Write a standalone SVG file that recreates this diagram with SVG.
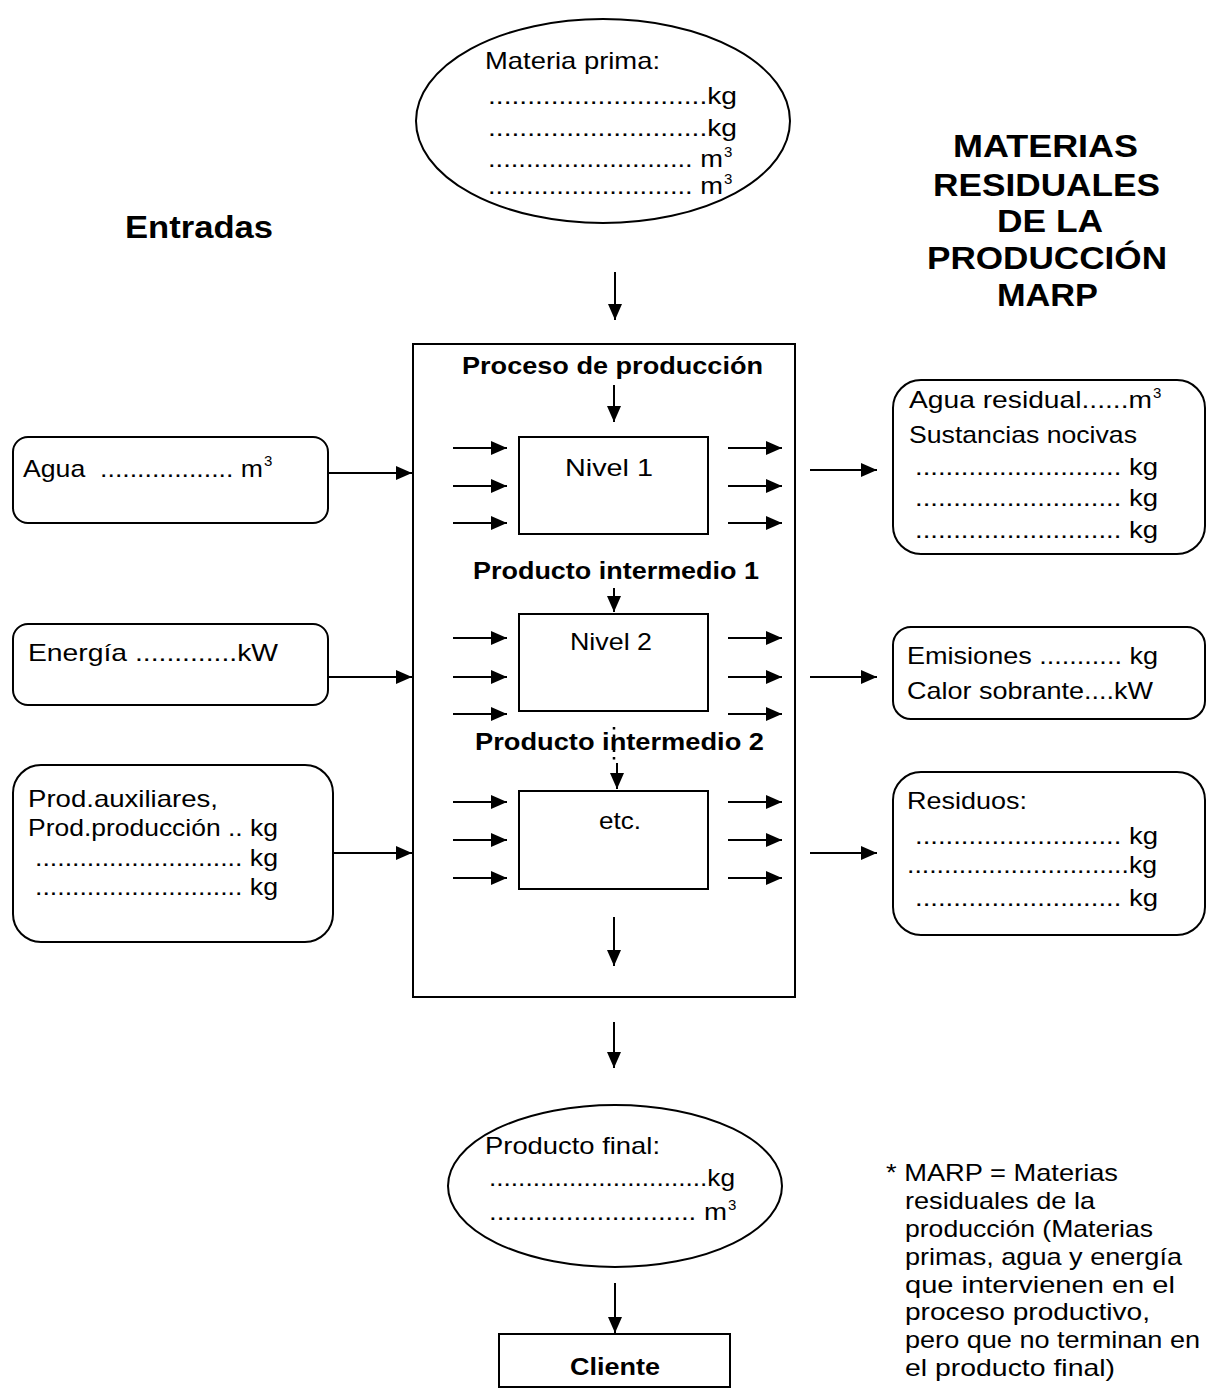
<svg xmlns="http://www.w3.org/2000/svg" width="1207" height="1394" viewBox="0 0 1207 1394">
<style>
.t{font-family:"Liberation Sans",Arial,sans-serif;font-size:24px;fill:#000}
.b{font-weight:bold}
.h{font-family:"Liberation Sans",Arial,sans-serif;font-size:32px;font-weight:bold;fill:#000}
.sup{font-size:15px}
.sh{fill:#fff;stroke:#000;stroke-width:2}
.ln{stroke:#000;stroke-width:2;fill:none}
.dot{stroke:#000;stroke-width:2.5;fill:none;stroke-dasharray:2.5 5}
</style>
<defs>
<marker id="ah" viewBox="0 0 16 14" refX="16" refY="7" markerWidth="16" markerHeight="14" markerUnits="userSpaceOnUse" orient="auto">
<path d="M0,0 L16,7 L0,14 Z" fill="#000"/>
</marker>
</defs>
<rect width="1207" height="1394" fill="#fff"/>

<g id="entradas-title">
<text class="h" x="125" y="238" textLength="148" lengthAdjust="spacingAndGlyphs">Entradas</text>
</g>
<g id="marp-title">
<text class="h" x="953" y="157" textLength="185" lengthAdjust="spacingAndGlyphs">MATERIAS</text>
<text class="h" x="933" y="196" textLength="227" lengthAdjust="spacingAndGlyphs">RESIDUALES</text>
<text class="h" x="997" y="232" textLength="106" lengthAdjust="spacingAndGlyphs">DE LA</text>
<text class="h" x="927" y="269" textLength="240" lengthAdjust="spacingAndGlyphs">PRODUCCIÓN</text>
<text class="h" x="997" y="306" textLength="101" lengthAdjust="spacingAndGlyphs">MARP</text>
</g>

<g id="materia-prima">
<ellipse class="sh" cx="603" cy="121" rx="187" ry="102"/>
<text class="t" x="485" y="69" textLength="175" lengthAdjust="spacingAndGlyphs">Materia prima:</text>
<text class="t" x="488" y="104" textLength="249" lengthAdjust="spacingAndGlyphs">............................kg</text>
<text class="t" x="488" y="136" textLength="249" lengthAdjust="spacingAndGlyphs">............................kg</text>
<text class="t"><tspan x="488" y="167" textLength="235" lengthAdjust="spacingAndGlyphs">........................... m</tspan><tspan class="sup" x="724" y="157">3</tspan></text>
<text class="t"><tspan x="488" y="194" textLength="235" lengthAdjust="spacingAndGlyphs">........................... m</tspan><tspan class="sup" x="724" y="184">3</tspan></text>
</g>

<g id="agua">
<rect class="sh" x="13" y="437" width="315" height="86" rx="15"/>
<text class="t" xml:space="preserve"><tspan x="23" y="477" textLength="240" lengthAdjust="spacingAndGlyphs">Agua  .................. m</tspan><tspan class="sup" x="264" y="466">3</tspan></text>
</g>
<g id="energia">
<rect class="sh" x="13" y="624" width="315" height="81" rx="15"/>
<text class="t" x="28" y="661" textLength="250" lengthAdjust="spacingAndGlyphs">Energía .............kW</text>
</g>
<g id="prod-auxiliares">
<rect class="sh" x="13" y="765" width="320" height="177" rx="28"/>
<text class="t" x="28" y="807" textLength="190" lengthAdjust="spacingAndGlyphs">Prod.auxiliares,</text>
<text class="t" x="28" y="836" textLength="250" lengthAdjust="spacingAndGlyphs">Prod.producción .. kg</text>
<text class="t" x="35" y="866" textLength="243" lengthAdjust="spacingAndGlyphs">............................ kg</text>
<text class="t" x="35" y="895" textLength="243" lengthAdjust="spacingAndGlyphs">............................ kg</text>
</g>

<g id="proceso">
<rect class="sh" x="413" y="344" width="382" height="653"/>
<text class="t b" x="462" y="374" textLength="301" lengthAdjust="spacingAndGlyphs">Proceso de producción</text>
<text class="t b" x="473" y="579" textLength="286" lengthAdjust="spacingAndGlyphs">Producto intermedio 1</text>
<text class="t b" x="475" y="750" textLength="289" lengthAdjust="spacingAndGlyphs">Producto intermedio 2</text>
</g>
<g id="nivel1">
<rect class="sh" x="519" y="437" width="189" height="97"/>
<text class="t" x="565" y="476" textLength="88" lengthAdjust="spacingAndGlyphs">Nivel 1</text>
</g>
<g id="nivel2">
<rect class="sh" x="519" y="614" width="189" height="97"/>
<text class="t" x="570" y="650" textLength="82" lengthAdjust="spacingAndGlyphs">Nivel 2</text>
</g>
<g id="etc">
<rect class="sh" x="519" y="791" width="189" height="98"/>
<text class="t" x="599" y="829" textLength="42" lengthAdjust="spacingAndGlyphs">etc.</text>
</g>

<g id="agua-residual">
<rect class="sh" x="893" y="380" width="312" height="174" rx="28"/>
<text class="t"><tspan x="909" y="408" textLength="243" lengthAdjust="spacingAndGlyphs">Agua residual......m</tspan><tspan class="sup" x="1153" y="398">3</tspan></text>
<text class="t" x="909" y="443" textLength="228" lengthAdjust="spacingAndGlyphs">Sustancias nocivas</text>
<text class="t" x="915" y="475" textLength="243" lengthAdjust="spacingAndGlyphs">........................... kg</text>
<text class="t" x="915" y="506" textLength="243" lengthAdjust="spacingAndGlyphs">........................... kg</text>
<text class="t" x="915" y="538" textLength="243" lengthAdjust="spacingAndGlyphs">........................... kg</text>
</g>
<g id="emisiones">
<rect class="sh" x="893" y="627" width="312" height="92" rx="18"/>
<text class="t" x="907" y="664" textLength="251" lengthAdjust="spacingAndGlyphs">Emisiones ........... kg</text>
<text class="t" x="907" y="699" textLength="246" lengthAdjust="spacingAndGlyphs">Calor sobrante....kW</text>
</g>
<g id="residuos">
<rect class="sh" x="893" y="772" width="312" height="163" rx="28"/>
<text class="t" x="907" y="809" textLength="120" lengthAdjust="spacingAndGlyphs">Residuos:</text>
<text class="t" x="915" y="844" textLength="243" lengthAdjust="spacingAndGlyphs">........................... kg</text>
<text class="t" x="907" y="873" textLength="250" lengthAdjust="spacingAndGlyphs">..............................kg</text>
<text class="t" x="915" y="906" textLength="243" lengthAdjust="spacingAndGlyphs">........................... kg</text>
</g>

<g id="producto-final">
<ellipse class="sh" cx="615" cy="1186" rx="167" ry="81"/>
<text class="t" x="485" y="1154" textLength="175" lengthAdjust="spacingAndGlyphs">Producto final:</text>
<text class="t" x="489" y="1186" textLength="246" lengthAdjust="spacingAndGlyphs">..............................kg</text>
<text class="t"><tspan x="489" y="1220" textLength="238" lengthAdjust="spacingAndGlyphs">........................... m</tspan><tspan class="sup" x="728" y="1210">3</tspan></text>
</g>
<g id="cliente">
<rect class="sh" x="499" y="1334" width="231" height="53"/>
<text class="t b" x="570" y="1375" textLength="90" lengthAdjust="spacingAndGlyphs">Cliente</text>
</g>

<g id="nota">
<text class="t" x="886" y="1181" textLength="232" lengthAdjust="spacingAndGlyphs">* MARP = Materias</text>
<text class="t" x="905" y="1209" textLength="190" lengthAdjust="spacingAndGlyphs">residuales de la</text>
<text class="t" x="905" y="1237" textLength="248" lengthAdjust="spacingAndGlyphs">producción (Materias</text>
<text class="t" x="905" y="1265" textLength="277" lengthAdjust="spacingAndGlyphs">primas, agua y energía</text>
<text class="t" x="905" y="1293" textLength="270" lengthAdjust="spacingAndGlyphs">que intervienen en el</text>
<text class="t" x="905" y="1320" textLength="245" lengthAdjust="spacingAndGlyphs">proceso productivo,</text>
<text class="t" x="905" y="1348" textLength="295" lengthAdjust="spacingAndGlyphs">pero que no terminan en</text>
<text class="t" x="905" y="1376" textLength="210" lengthAdjust="spacingAndGlyphs">el producto final)</text>
</g>

<g id="connectors">
<line class="ln" x1="615" y1="272" x2="615" y2="320" marker-end="url(#ah)"/>
<line class="ln" x1="614" y1="385" x2="614" y2="422" marker-end="url(#ah)"/>
<line class="ln" x1="614" y1="588" x2="614" y2="612" marker-end="url(#ah)"/>
<line class="dot" x1="614" y1="727" x2="614" y2="763"/>
<line class="ln" x1="617" y1="763" x2="617" y2="789" marker-end="url(#ah)"/>
<line class="ln" x1="614" y1="917" x2="614" y2="966" marker-end="url(#ah)"/>
<line class="ln" x1="614" y1="1022" x2="614" y2="1068" marker-end="url(#ah)"/>
<line class="ln" x1="615" y1="1283" x2="615" y2="1333" marker-end="url(#ah)"/>
<line class="ln" x1="328" y1="473" x2="412" y2="473" marker-end="url(#ah)"/>
<line class="ln" x1="328" y1="677" x2="412" y2="677" marker-end="url(#ah)"/>
<line class="ln" x1="333" y1="853" x2="412" y2="853" marker-end="url(#ah)"/>
<line class="ln" x1="810" y1="470" x2="877" y2="470" marker-end="url(#ah)"/>
<line class="ln" x1="810" y1="677" x2="877" y2="677" marker-end="url(#ah)"/>
<line class="ln" x1="810" y1="853" x2="877" y2="853" marker-end="url(#ah)"/>
<line class="ln" x1="453" y1="448" x2="507" y2="448" marker-end="url(#ah)"/>
<line class="ln" x1="453" y1="486" x2="507" y2="486" marker-end="url(#ah)"/>
<line class="ln" x1="453" y1="523" x2="507" y2="523" marker-end="url(#ah)"/>
<line class="ln" x1="728" y1="448" x2="782" y2="448" marker-end="url(#ah)"/>
<line class="ln" x1="728" y1="486" x2="782" y2="486" marker-end="url(#ah)"/>
<line class="ln" x1="728" y1="523" x2="782" y2="523" marker-end="url(#ah)"/>
<line class="ln" x1="453" y1="638" x2="507" y2="638" marker-end="url(#ah)"/>
<line class="ln" x1="453" y1="677" x2="507" y2="677" marker-end="url(#ah)"/>
<line class="ln" x1="453" y1="714" x2="507" y2="714" marker-end="url(#ah)"/>
<line class="ln" x1="728" y1="638" x2="782" y2="638" marker-end="url(#ah)"/>
<line class="ln" x1="728" y1="677" x2="782" y2="677" marker-end="url(#ah)"/>
<line class="ln" x1="728" y1="714" x2="782" y2="714" marker-end="url(#ah)"/>
<line class="ln" x1="453" y1="802" x2="507" y2="802" marker-end="url(#ah)"/>
<line class="ln" x1="453" y1="840" x2="507" y2="840" marker-end="url(#ah)"/>
<line class="ln" x1="453" y1="878" x2="507" y2="878" marker-end="url(#ah)"/>
<line class="ln" x1="728" y1="802" x2="782" y2="802" marker-end="url(#ah)"/>
<line class="ln" x1="728" y1="840" x2="782" y2="840" marker-end="url(#ah)"/>
<line class="ln" x1="728" y1="878" x2="782" y2="878" marker-end="url(#ah)"/>
</g>
</svg>
